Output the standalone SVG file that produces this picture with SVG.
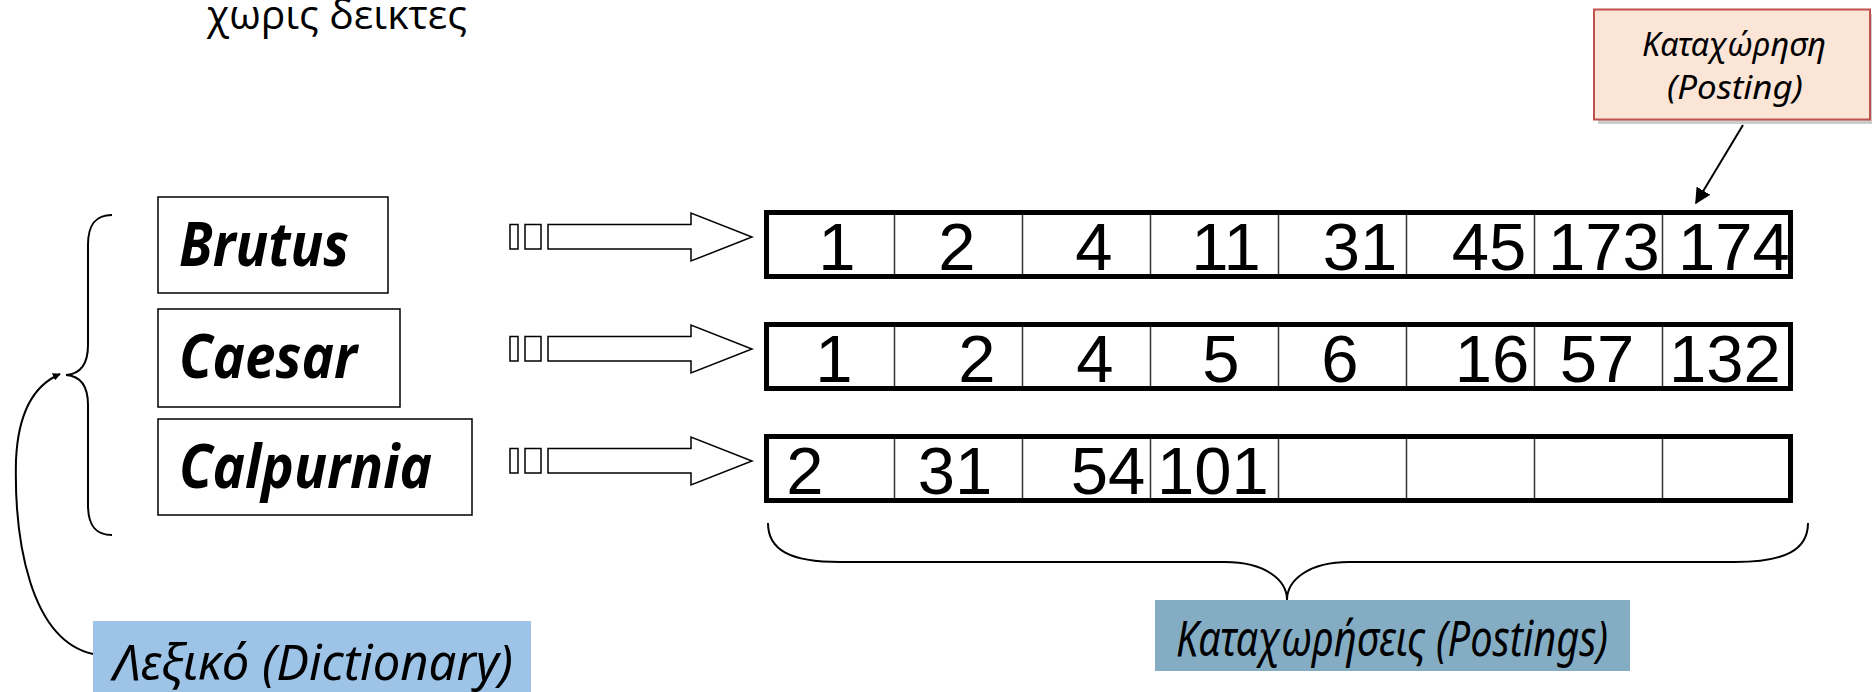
<svg xmlns="http://www.w3.org/2000/svg" width="1872" height="692" viewBox="0 0 1872 692">
<defs>
<style>
.term{font-family:"Open Sans","Liberation Sans",sans-serif;font-weight:bold;font-style:italic;font-size:61px;fill:#000}
.tbox{fill:#fff;stroke:#000;stroke-width:1.5}
.plist{fill:#fff;stroke:#000;stroke-width:5}
.div{stroke:#333;stroke-width:1.5}
.num{font-family:"Liberation Sans",Arial,sans-serif;font-size:67px;fill:#000;text-anchor:middle}
.ptr{fill:#fff;stroke:#000;stroke-width:1.5}
.line{fill:none;stroke:#000;stroke-width:2}
.lbl{font-family:"Noto Sans","Open Sans",sans-serif;font-style:italic;fill:#000}
</style>
<marker id="ah" viewBox="0 0 10 10" refX="9" refY="5" markerWidth="8" markerHeight="8" markerUnits="userSpaceOnUse" orient="auto">
<path d="M0,0 L10,5 L0,10 Z" fill="#000"/>
</marker>
<marker id="ah2" viewBox="0 0 10 10" refX="9" refY="5" markerWidth="16" markerHeight="16" markerUnits="userSpaceOnUse" orient="auto">
<path d="M0,0 L10,5 L0,10 Z" fill="#000"/>
</marker>
</defs>
<rect width="1872" height="692" fill="#fff"/>

<text x="207" y="29" font-family="Open Sans, Noto Sans, sans-serif" font-size="40" textLength="260" lengthAdjust="spacingAndGlyphs">χωρις δεικτες</text>

<g id="posting-callout">
<rect x="1598" y="14" width="276" height="110" fill="#cccccc"/>
<rect x="1594" y="9.5" width="276" height="110" fill="#fbe5d6" stroke="#c0504d" stroke-width="2"/>
<text class="lbl" x="1734" y="56" font-size="33" text-anchor="middle" textLength="184" lengthAdjust="spacingAndGlyphs">Καταχώρηση</text>
<text class="lbl" x="1735" y="99" font-size="33" text-anchor="middle" textLength="136" lengthAdjust="spacingAndGlyphs">(Posting)</text>
</g>

<g id="term-brutus">
<rect class="tbox" x="158" y="197" width="230" height="96"/>
<text class="term" x="179" y="266" textLength="170" lengthAdjust="spacingAndGlyphs">Brutus</text>
</g>
<g id="term-caesar">
<rect class="tbox" x="158" y="309" width="242" height="98"/>
<text class="term" x="179" y="378" textLength="178" lengthAdjust="spacingAndGlyphs">Caesar</text>
</g>
<g id="term-calpurnia">
<rect class="tbox" x="158" y="419" width="314" height="96"/>
<text class="term" x="179" y="488" textLength="253" lengthAdjust="spacingAndGlyphs">Calpurnia</text>
</g>

<g id="postings-brutus">
<rect class="plist" x="766.5" y="212.5" width="1024" height="64"/>
<g class="div">
<line x1="894.5" y1="215" x2="894.5" y2="274"/><line x1="1022.5" y1="215" x2="1022.5" y2="274"/>
<line x1="1150.5" y1="215" x2="1150.5" y2="274"/><line x1="1278.5" y1="215" x2="1278.5" y2="274"/>
<line x1="1406.5" y1="215" x2="1406.5" y2="274"/><line x1="1534.5" y1="215" x2="1534.5" y2="274"/>
<line x1="1662.5" y1="215" x2="1662.5" y2="274"/>
</g>
<text class="num" x="837" y="270">1</text>
<text class="num" x="957" y="270">2</text>
<text class="num" x="1094" y="270">4</text>
<text class="num" x="1226" y="270">11</text>
<text class="num" x="1360" y="270">31</text>
<text class="num" x="1489" y="270">45</text>
<text class="num" x="1604" y="270">173</text>
<text class="num" x="1734" y="270">174</text>
</g>

<g id="postings-caesar">
<rect class="plist" x="766.5" y="324.5" width="1024" height="64"/>
<g class="div">
<line x1="894.5" y1="327" x2="894.5" y2="386"/><line x1="1022.5" y1="327" x2="1022.5" y2="386"/>
<line x1="1150.5" y1="327" x2="1150.5" y2="386"/><line x1="1278.5" y1="327" x2="1278.5" y2="386"/>
<line x1="1406.5" y1="327" x2="1406.5" y2="386"/><line x1="1534.5" y1="327" x2="1534.5" y2="386"/>
<line x1="1662.5" y1="327" x2="1662.5" y2="386"/>
</g>
<text class="num" x="834" y="382">1</text>
<text class="num" x="977" y="382">2</text>
<text class="num" x="1095" y="382">4</text>
<text class="num" x="1221" y="382">5</text>
<text class="num" x="1340" y="382">6</text>
<text class="num" x="1492" y="382">16</text>
<text class="num" x="1597" y="382">57</text>
<text class="num" x="1725" y="382">132</text>
</g>

<g id="postings-calpurnia">
<rect class="plist" x="766.5" y="436.5" width="1024" height="64"/>
<g class="div">
<line x1="894.5" y1="439" x2="894.5" y2="498"/><line x1="1022.5" y1="439" x2="1022.5" y2="498"/>
<line x1="1150.5" y1="439" x2="1150.5" y2="498"/><line x1="1278.5" y1="439" x2="1278.5" y2="498"/>
<line x1="1406.5" y1="439" x2="1406.5" y2="498"/><line x1="1534.5" y1="439" x2="1534.5" y2="498"/>
<line x1="1662.5" y1="439" x2="1662.5" y2="498"/>
</g>
<text class="num" x="805" y="494">2</text>
<text class="num" x="955" y="494">31</text>
<text class="num" x="1108" y="494">54</text>
<text class="num" x="1213" y="494">101</text>
</g>

<g id="dictionary-label">
<rect x="93" y="621" width="438" height="75" fill="#9dc3e6"/>
<text class="lbl" x="113" y="680" font-size="50" textLength="400" lengthAdjust="spacingAndGlyphs">Λεξικό (Dictionary)</text>
</g>

<g id="postings-label">
<rect x="1155" y="600" width="475" height="71" fill="#84adc4"/>
<text class="lbl" x="1176" y="656" font-size="50" textLength="432" lengthAdjust="spacingAndGlyphs">Καταχωρήσεις (Postings)</text>
</g>

<g id="connectors">
<g id="pointers">
<rect class="ptr" x="510" y="224.5" width="8" height="24.5"/>
<rect class="ptr" x="525" y="224.5" width="16" height="24.5"/>
<path class="ptr" d="M548,224.5 H691 V213 L752,237 L691,261 V249 H548 Z"/>
<rect class="ptr" x="510" y="336.5" width="8" height="24.5"/>
<rect class="ptr" x="525" y="336.5" width="16" height="24.5"/>
<path class="ptr" d="M548,336.5 H691 V325 L752,349 L691,373 V361 H548 Z"/>
<rect class="ptr" x="510" y="448.5" width="8" height="24.5"/>
<rect class="ptr" x="525" y="448.5" width="16" height="24.5"/>
<path class="ptr" d="M548,448.5 H691 V437 L752,461 L691,485 V473 H548 Z"/>
</g>
<path class="line" d="M112,215 C95,215 88,225 88,245 V345 C88,365 80,374 66,375 C80,376 88,385 88,405 V505 C88,525 95,535 112,535"/>
<path class="line" d="M768,523 C768,550 790,562 840,562 H1225 C1265,562 1287,580 1287,600 C1287,580 1309,562 1349,562 H1735 C1785,562 1808,550 1808,523"/>
<path class="line" d="M93,654 C30,640 14,540 16,460 C18,415 32,386 60,374" marker-end="url(#ah)"/>
<line class="line" x1="1743" y1="125" x2="1696" y2="203" marker-end="url(#ah2)"/>
</g>
</svg>
